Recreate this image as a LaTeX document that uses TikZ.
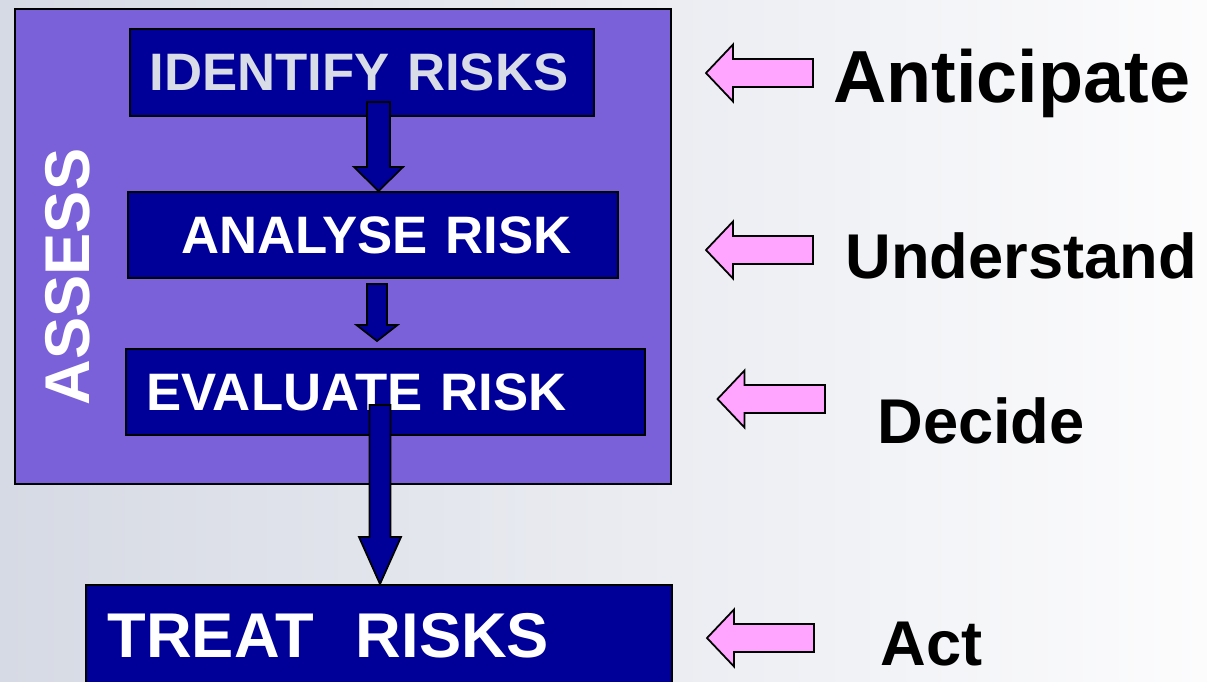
\documentclass[tikz,border=0pt]{standalone}
\usepackage{fontspec}
\setmainfont{Liberation Sans}
\usetikzlibrary{calc}
\definecolor{navy}{RGB}{0,0,153}
\definecolor{assesspurple}{RGB}{123,97,217}
\definecolor{pinkarrow}{RGB}{255,165,255}
\definecolor{idtext}{RGB}{216,220,230}
\definecolor{bgleft}{RGB}{214,218,228}
\definecolor{bgright}{RGB}{252,252,253}
\tikzstyle{riskbox}=[draw=black,line width=1.2pt,fill=navy,text=white,anchor=north west,align=left,inner ysep=0pt,font=\bfseries\fontsize{30}{30}\selectfont]
\tikzstyle{bluearrow}=[draw=black,line width=1pt,fill=navy]
\tikzstyle{pinkblock}=[draw=black,line width=1pt,fill=pinkarrow]
\tikzstyle{sideword}=[anchor=base west,inner sep=0pt,text=black]
% block arrow: tail, tip, half shaft, half head, head length, style
\newcommand{\blockarrow}[6]{%
  \coordinate (ba-h) at ($(#2)!#5!(#1)$);
  \path[#6] ($(#1)!#3!90:(#2)$) -- ($(ba-h)!#3!90:(#2)$) -- ($(ba-h)!#4!90:(#2)$) -- (#2)
    -- ($(ba-h)!#4!-90:(#2)$) -- ($(ba-h)!#3!-90:(#2)$) -- ($(#1)!#3!-90:(#2)$) -- cycle;}

\begin{document}
\begin{tikzpicture}[x=0.02cm,y=-0.02cm]
    \useasboundingbox (0,0) rectangle (1207,681);
    \clip (0,0) rectangle (1207,681);
    \shade[left color=bgleft,right color=bgright] (0,0) rectangle (1207,681);

    % The assess frame and its label
    \node[draw=black,line width=1.2pt,fill=assesspurple,anchor=north west,minimum width=13.12cm,minimum height=9.5cm] (assess) at (14,8) {};
    \node[rotate=90,text=white,font=\bfseries\fontsize{36}{36}\selectfont] (assesslabel) at (68,277) {ASSESS};

    % The steps
    \node[riskbox,text=idtext,minimum height=1.74cm,inner xsep=0.39cm,text width=8.5cm] (identify) at (129,28) {IDENTIFY RISKS};
    \node[riskbox,minimum height=1.72cm,inner xsep=0.39cm,text width=9.02cm] (analyse) at (127,191) {\hspace*{0.67cm}ANALYSE RISK};
    \node[riskbox,minimum height=1.72cm,inner xsep=0.41cm,text width=9.56cm] (evaluate) at (125,348) {EVALUATE RISK};
    \node[riskbox,font=\bfseries\fontsize{36}{36}\selectfont,minimum height=2.04cm,inner xsep=0.43cm,text width=10.86cm] (treat) at (85,584) {TREAT\ \ RISKS};

    % Arrows between the steps
    \coordinate (id-out) at ($(identify.south)+(16.5,-15)$);
    \coordinate (an-in) at (id-out |- analyse.north);
    \coordinate (an-out) at ($(analyse.south)+(4,5)$);
    \coordinate (ev-top) at (an-out |- evaluate.north);
    \coordinate (ev-in) at ($(ev-top)+(0,-7)$);
    \coordinate (ev-out) at ($(evaluate.south)+(-5.5,-31)$);
    \coordinate (tr-in) at (ev-out |- treat.north);
    \foreach \source/\dest/\sw/\hw/\hl in {id-out/an-in/0.23cm/0.49cm/0.48cm, an-out/ev-in/0.2cm/0.41cm/0.32cm, ev-out/tr-in/0.21cm/0.42cm/0.94cm}
        \blockarrow{\source}{\dest}{\sw}{\hw}{\hl}{bluearrow};

    % Words on the right
    \foreach \pos/\name/\word/\size in {{(833,102)/anticipate/Anticipate/42}, {(845,278)/understand/Understand/36}, {(877,443)/decide/Decide/36}, {(880,665)/act/Act/36}}
        \node[sideword,font=\bfseries\fontsize{\size}{\size}\selectfont] (\name) at \pos {\word};

    % Pink arrows pointing back
    \foreach \x/\y/\name in {813/73/tailA, 706/73/tipA, 813/250/tailU, 706/250/tipU, 825/399/tailD, 717.5/399/tipD, 814/638/tailT, 707/638/tipT}
        \coordinate (\name) at (\x,\y);
    \foreach \source/\dest in {tailA/tipA, tailU/tipU, tailD/tipD, tailT/tipT}
        \blockarrow{\source}{\dest}{0.28cm}{0.57cm}{0.54cm}{pinkblock};
\end{tikzpicture}
\end{document}
